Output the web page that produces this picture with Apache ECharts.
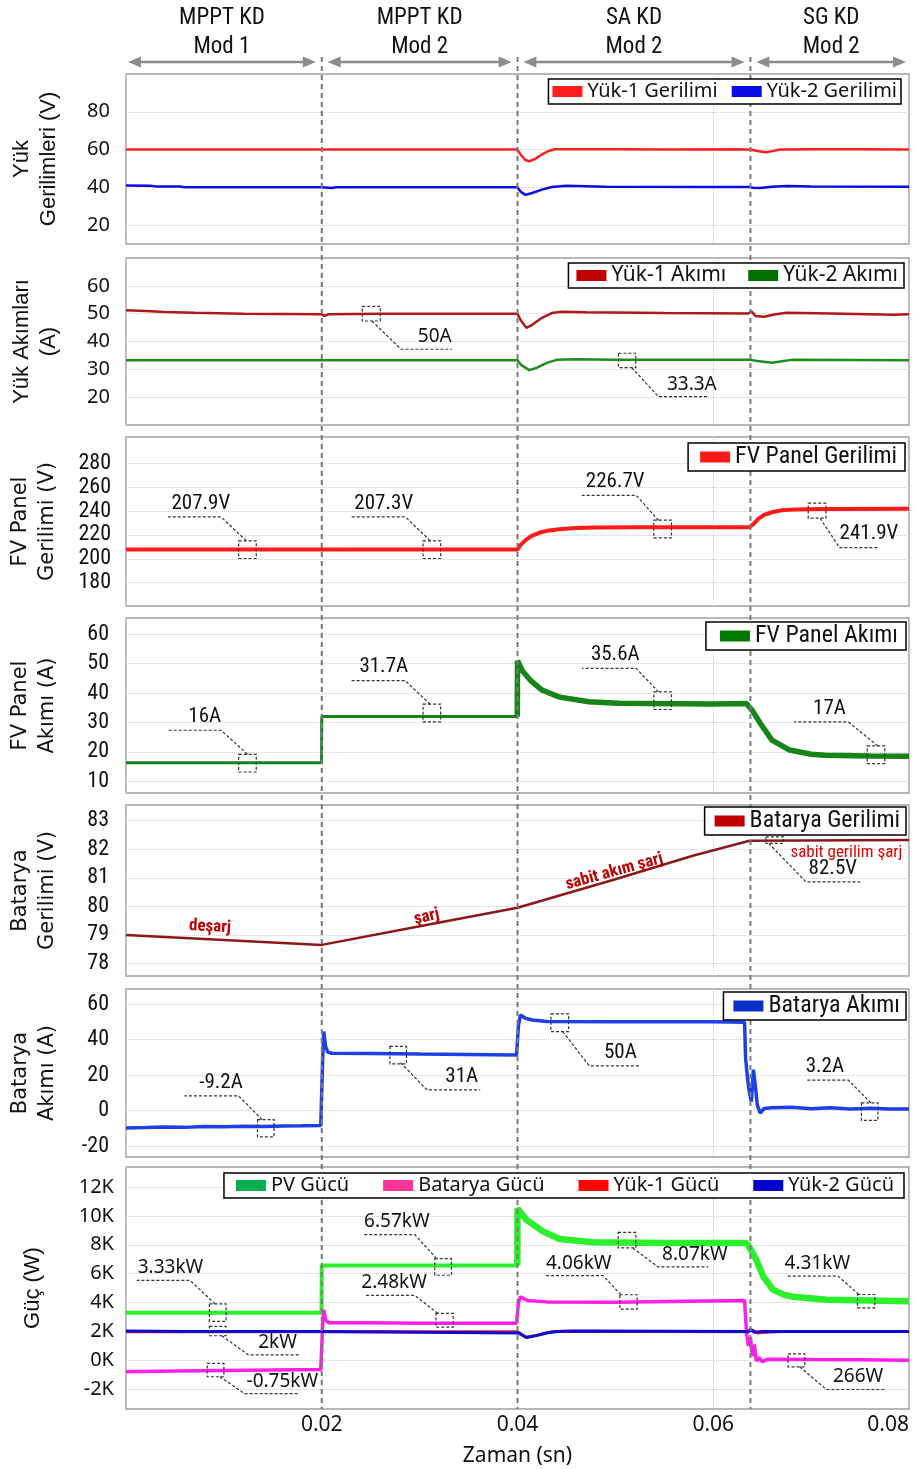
<!DOCTYPE html>
<html><head><meta charset="utf-8">
<script src="https://cdn.jsdelivr.net/npm/echarts@6/dist/echarts.min.js"></script>
<style>html,body{margin:0;padding:0;background:#fff}#c{width:921px;height:1469px}</style>
</head><body><div id="c"></div><script>
// ---------------- DATA ----------------
const modeTop = ['MPPT KD','MPPT KD','SA KD','SG KD'];
const modeBottom = ['Mod 1','Mod 2','Mod 2','Mod 2'];
const modeSpans = [[0.0002,0.0194],[0.0206,0.0394],[0.0406,0.0632],[0.0644,0.0797]];
const switchTimes = [[0.02,0],[0.04,0],[0.0638,0]];

const p1Ticks = [20,40,60,80];
const p2Ticks = [20,30,40,50,60];
const p3Ticks = [180,200,220,240,260,280];
const p4Ticks = [10,20,30,40,50,60];
const p5Ticks = [78,79,80,81,82,83];
const p6Ticks = [-20,0,20,40,60];
const p7Ticks = [-2000,0,2000,4000,6000,8000,10000,12000];

const yuk1Gerilimi = [[0,60],[0.0200,60],[0.0202,59.7],[0.0206,60],[0.0400,60],[0.0403,57.5],[0.0408,54.5],[0.0412,53.8],[0.0418,55],[0.0425,57.5],[0.0432,59.3],[0.0438,60.2],[0.0450,60.1],[0.0500,60.2],[0.0560,60],[0.0620,60.2],[0.0638,60],[0.0645,59.2],[0.0654,58.6],[0.0662,59.3],[0.0668,60],[0.0700,60.1],[0.0750,60.2],[0.0800,60]];
const yuk2Gerilimi = [[0,41],[0.0025,40.9],[0.003,40.5],[0.0055,40.4],[0.006,40],[0.0200,40],[0.0202,39.4],[0.0210,39.6],[0.0215,40],[0.0400,40],[0.0403,37.8],[0.0408,36],[0.0415,37],[0.0425,38.8],[0.0435,40.2],[0.0450,40.8],[0.0470,40.6],[0.0490,40.3],[0.0600,40.2],[0.0636,40.2],[0.0638,41],[0.0641,39.8],[0.0648,39.6],[0.0660,40.3],[0.0675,40.7],[0.0700,40.4],[0.0800,40.3]];

const yuk1Akimi = [[0,51.2],[0.002,51],[0.004,50.6],[0.007,50.3],[0.012,50],[0.0200,49.8],[0.0203,49.2],[0.0207,49.8],[0.026,50],[0.0400,50],[0.0403,47.8],[0.0409,44.9],[0.0415,46],[0.0425,48.5],[0.0435,50.2],[0.0445,50.7],[0.047,50.5],[0.055,50.2],[0.0636,50.1],[0.0639,50.8],[0.0643,49.2],[0.0652,48.9],[0.0662,49.7],[0.0675,50.3],[0.072,50.1],[0.0785,49.6],[0.0800,49.8]];
const yuk2Akimi = [[0,33.3],[0.0200,33.3],[0.0202,33.6],[0.0206,33.3],[0.0400,33.3],[0.0404,31.5],[0.0412,29.7],[0.0420,30.6],[0.0430,32.3],[0.0440,33.4],[0.0460,33.6],[0.050,33.4],[0.0638,33.4],[0.0645,33],[0.0660,32.4],[0.0672,33],[0.068,33.4],[0.080,33.3]];

const fvGerilim = [[0,207.9],[0.0400,207.9],[0.0403,211.5],[0.0408,215.5],[0.0414,219],[0.0422,221.8],[0.0432,223.8],[0.0445,225],[0.0460,225.8],[0.0480,226.3],[0.0520,226.5],[0.0637,226.5],[0.0641,229],[0.0646,233.5],[0.0652,236.8],[0.0660,239],[0.0670,240.6],[0.0685,241.4],[0.0710,241.8],[0.0800,241.9]];

const fvAkimA = [[0,16.3],[0.01998,16.3],[0.0200,32],[0.03998,32]];
const fvAkimB = [[0.03998,32],[0.0400,51],[0.0405,47.5],[0.0413,44.4],[0.0425,41],[0.0443,38.6],[0.0473,37],[0.0503,36.5],[0.0600,36.3],[0.0634,36.4],[0.0640,34],[0.0648,29.7],[0.0660,24],[0.0678,20.6],[0.0700,19.2],[0.0714,18.8],[0.0760,18.6],[0.0800,18.5]];

const batGerilim = [[0,79.0],[0.0200,78.65],[0.0300,79.3],[0.0400,79.95],[0.0500,80.95],[0.0580,81.78],[0.0637,82.3],[0.0800,82.32]];

const batAkim = [[0,-9.8],[0.002,-9.6],[0.004,-9.3],[0.006,-9.5],[0.008,-9.0],[0.010,-9.2],[0.012,-8.8],[0.014,-9.0],[0.016,-8.7],[0.018,-8.6],[0.0199,-8.4],[0.0201,30],[0.0202,44.5],[0.0204,36],[0.0206,33],[0.021,32.3],[0.025,32.1],[0.03,31.8],[0.035,31.6],[0.0399,31.3],[0.0401,48],[0.0403,53.8],[0.0408,52],[0.0415,51],[0.043,50.2],[0.05,50],[0.06,50],[0.0632,49.8],[0.0633,30],[0.0635,18],[0.0637,10],[0.0639,5],[0.0641,23],[0.0643,14],[0.0645,3],[0.0648,-1.5],[0.0652,1.2],[0.066,1.5],[0.068,1.8],[0.07,1.0],[0.072,1.5],[0.074,0.8],[0.076,1.3],[0.078,0.9],[0.08,0.9]];

const pvGucA = [[0,3300],[0.01998,3300],[0.0200,6560],[0.03998,6560]];
const pvGucB = [[0.03998,6560],[0.0400,10500],[0.0409,9740],[0.0426,8930],[0.0443,8400],[0.0477,8170],[0.0550,8120],[0.0634,8120],[0.0638,7700],[0.0644,6970],[0.0651,5820],[0.0661,4900],[0.0672,4550],[0.0682,4400],[0.0716,4200],[0.0800,4100]];
const batGuc = [[0,-780],[0.005,-740],[0.01,-700],[0.015,-660],[0.0199,-620],[0.0201,2500],[0.0202,3500],[0.0204,2800],[0.0207,2600],[0.025,2600],[0.03,2580],[0.0399,2570],[0.0401,4000],[0.0403,4400],[0.041,4150],[0.043,4050],[0.05,4030],[0.0632,4150],[0.0634,1900],[0.0636,1000],[0.0638,1600],[0.0640,300],[0.0642,1100],[0.0644,-50],[0.0647,200],[0.065,-100],[0.0655,70],[0.066,80],[0.07,60],[0.075,40],[0.08,20]];
const yuk1Guc = [[0,1980],[0.04,1980],[0.0403,1800],[0.0409,1600],[0.042,1750],[0.0435,1990],[0.045,2010],[0.0636,1990],[0.064,2100],[0.0645,1900],[0.0655,1950],[0.067,2000],[0.08,2000]];
const yuk2Guc = [[0,2030],[0.006,2000],[0.02,2000],[0.0402,1900],[0.0409,1580],[0.0418,1700],[0.043,1900],[0.044,2000],[0.046,2030],[0.0636,2000],[0.0638,2150],[0.0642,1950],[0.065,2000],[0.08,2000]];

// annotation anchors (t, value) and texts
const p2NoteAt = [[0.02506,50.0],[0.0512,33.2]];
const p2NoteText = ['50A','33.3A'];
const p3NoteAt = [[0.01241,207.7],[0.03125,207.7],[0.05483,225],[0.07061,240.3]];
const p3NoteText = ['207.9V','207.3V','226.7V','241.9V'];
const p4NoteAt = [[0.01241,16.15],[0.03125,33.2],[0.05483,37.4],[0.07663,19.0]];
const p4NoteText = ['16A','31.7A','35.6A','17A'];
const p5NoteAt = [[0.06628,82.32]];
const p5NoteText = ['82.5V'];
const p6NoteAt = [[0.01428,-10],[0.02781,31.2],[0.04432,49.5],[0.07598,-0.6]];
const p6NoteText = ['-9.2A','31A','50A','3.2A'];
const p7NoteAt = [[0.00937,3310],[0.00937,2030],[0.00915,-670],[0.0324,6470],[0.03255,2780],[0.05119,8320],[0.05134,4050],[0.07562,4100],[0.0685,10]];
const p7NoteText = ['3.33kW','2kW','-0.75kW','6.57kW','2.48kW','8.07kW','4.06kW','4.31kW','266W'];
const p5StateAt = [[0.00858,79.28],[0.03072,79.63],[0.04989,81.21],[0.0736,81.88]];
const p5StateText = ['deşarj','şarj','sabit akım şarj','sabit gerilim şarj'];

// ---------------- LAYOUT / STYLE ----------------
const NORMAL = "'Noto Sans','Open Sans',sans-serif";
const NARROW = "'Liberation Sans Narrow','Roboto Condensed','Liberation Sans',sans-serif";
const ARIAL = "'Liberation Sans','Arimo',sans-serif";
const WIDE = "'DejaVu Sans',sans-serif";
// note layout: [boxW, boxH, startDx, startDy, elbowDx, elbowDy, underlineLen, textDx]
const p2NoteLay = [[18,14.7,0.7,7.3,29.7,35.6,51,33.8],[17.4,14.4,4.7,7.2,31.3,36.2,50,33.4]];
const p3NoteLay = [[17.6,17.7,-1.2,-8.9,-26.5,-32.7,-53,-20.1],[17.6,17.7,-1.7,-8.9,-26.5,-32.7,-55,-21.6],[17.6,17.7,-4.1,-8.7,-26.5,-33.6,-54.2,-20.9],[17.7,15,3,7.6,22.4,36.9,40,29.5]];
const p4NoteLay = [[17.6,17.7,0,-8.9,-26.5,-32.9,-54.2,-16.2],[17.6,17.7,-1.7,-8.7,-26.5,-32.3,-54.8,-21.6],[17.6,17.7,-4.1,-8.8,-26.5,-32.2,-54.2,-20.9],[17.6,17.7,1.8,-8.8,-27.6,-32.8,-54.3,-18.9]];
const p5NoteLay = [[17.7,6.6,-5.9,3.3,31.1,41.7,54.3,27]];
const p6NoteLay = [[16.5,17.4,-3.6,-8.7,-27.1,-32.3,-54.3,-17.7],[16.5,17.4,2.4,7.5,28.9,34.8,53.1,34.6],[17.7,17.7,2.9,8.8,29.4,43.1,51.7,31.2],[16.5,17.4,1.2,-8.7,-21.2,-31.4,-41.3,-23.6]];
const p7NoteLay = [[16.7,17.4,-2.7,-8.7,-27.7,-32.3,-53.3,-19.5],[16.7,9.3,4,4.7,30.6,23.7,51,29.2],[16.7,13.3,4.3,6.6,29.3,23.6,52.7,37.5],[16.7,16.7,-6.6,-8.3,-28.3,-32.3,-52.3,-18],[17.3,13.7,-6.7,-6.8,-29.7,-24.8,-49,-20.8],[17.7,15.6,5.8,7.8,31.1,26.8,50,36.7],[17.3,14.3,-7.7,-7.2,-25.4,-26.2,-57.3,-24.4],[17.3,13.3,-7.3,-6.7,-28,-25,-52.3,-20.8],[16.7,13,3.3,6.5,30,29.2,58.3,31.6]];
const p5StateRot = [-3,13,15.5,0];
const p5StateBold = [true,true,true,false];

const LEFT = 126, RIGHT = 12;
const panels = [
  {top:74,  h:170, min:10,    max:100,   ticks:p1Ticks, name:'Yük\nGerilimleri (V)', gap:64, font:NORMAL, fs:20, margin:16, nf:ARIAL, nfs:22},
  {top:258, h:167, min:10,    max:70,    ticks:p2Ticks, name:'Yük Akımları\n(A)',    gap:64, font:NORMAL, fs:20, margin:16, nf:ARIAL, nfs:22},
  {top:437, h:169, min:160.5, max:302,   ticks:p3Ticks, name:'FV Panel\nGerilimi (V)', gap:65, font:NARROW, fs:22, margin:15, nf:WIDE, nfs:21},
  {top:618, h:175, min:6,     max:65.5,  ticks:p4Ticks, name:'FV Panel\nAkımı (A)',  gap:65, font:NARROW, fs:22, margin:17, nf:WIDE, nfs:21},
  {top:805, h:171, min:77.56, max:83.55, ticks:p5Ticks, name:'Batarya\nGerilimi (V)', gap:65, font:NARROW, fs:22, margin:17, nf:WIDE, nfs:21},
  {top:989, h:168, min:-26.2, max:68.5,  ticks:p6Ticks, name:'Batarya\nAkımı (A)',   gap:65, font:NARROW, fs:22, margin:17, nf:WIDE, nfs:21},
  {top:1167,h:242, min:-3360, max:13380, ticks:p7Ticks, name:'Güç (W)',             gap:80, font:NORMAL, fs:20, margin:12, nf:ARIAL, nfs:22}
];

const grids = [], xAxes = [], yAxes = [], series = [], legends = [];
panels.forEach((p, i) => {
  grids.push({left:LEFT, right:RIGHT, top:p.top, height:p.h, show:true, borderColor:'#a0a0a0', borderWidth:1.5,
    backgroundColor:'#fff', containLabel:false, outerBoundsMode:'none'});
  xAxes.push({gridIndex:i, type:'value', min:0, max:0.08, interval:0.02,
    axisLine:{show:false}, axisTick:{show:false},
    axisLabel:{show:i===6, fontFamily:NORMAL, fontSize:21, color:'#111', margin:6, showMinLabel:false,
      alignMaxLabel:'right', formatter:v => v === 0 ? '' : v.toFixed(2)},
    splitLine:{show:true, lineStyle:{color:'#cfcfcf', type:'dotted', width:1}},
    name: i===6 ? 'Zaman (sn)' : '', nameLocation:'middle', nameGap:37,
    nameTextStyle:{fontFamily:NORMAL, fontSize:21, color:'#111'}});
  yAxes.push({gridIndex:i, type:'value', min:p.min, max:p.max,
    axisLine:{show:false}, axisTick:{show:false, customValues:p.ticks},
    axisLabel:{customValues:p.ticks, fontFamily:p.font, fontSize:p.fs, color:'#111', margin:p.margin,
      formatter: i===6 ? (v => (v/1000) + 'K') : (v => String(v))},
    splitLine:{show:true, lineStyle:{color:'#cfcfcf', type:'dotted', width:1}},
    name:p.name, nameLocation:'middle', nameRotate:90, nameGap:p.gap,
    nameTextStyle:{fontFamily:p.nf, fontSize:p.nfs, color:'#111', lineHeight:27, align:'center'}});
});

function lineSeries(name, idx, data, color, width, z) {
  return {name, type:'line', xAxisIndex:idx, yAxisIndex:idx, data, showSymbol:false, symbol:'none',
    lineStyle:{color, width}, itemStyle:{color}, z:z||2, silent:true, animation:false};
}
series.push(lineSeries('Yük-1 Gerilimi',0,yuk1Gerilimi,'#ff1f1f',2.5));
series.push(lineSeries('Yük-2 Gerilimi',0,yuk2Gerilimi,'#0a0ae6',2.5));
series.push(lineSeries('Yük-1 Akımı',1,yuk1Akimi,'#b01818',2.5));
series.push(lineSeries('Yük-2 Akımı',1,yuk2Akimi,'#1e8c1e',2.5));
series.push(lineSeries('FV Panel Gerilimi',2,fvGerilim,'#ff1a1a',4));
series.push(lineSeries('FV Panel Akımı',3,fvAkimA,'#168416',3));
series.push(lineSeries('FV Panel Akımı',3,fvAkimB,'#168416',5.5));
series.push(lineSeries('Batarya Gerilimi',4,batGerilim,'#8b1818',2.5));
series.push(lineSeries('Batarya Akımı',5,batAkim,'#1f3fe6',3.5));
series.push(lineSeries('PV Gücü',6,pvGucA,'#2cf02c',4));
series.push(lineSeries('PV Gücü',6,pvGucB,'#2cf02c',6.5));
series.push(lineSeries('Batarya Gücü',6,batGuc,'#ff1fe8',3.5));
series.push(lineSeries('Yük-1 Gücü',6,yuk1Guc,'#ff1f1f',3));
series.push(lineSeries('Yük-2 Gücü',6,yuk2Guc,'#0a0ad2',3));

function legendCfg(names, right, top, gap, font, fs, pad, colors) {
  return {data:names.map((n, k) => colors && colors[k] ? {name:n, itemStyle:{color:colors[k]}} : n),
    right, top, orient:'horizontal', icon:'rect', itemWidth:30, itemHeight:11, itemGap:gap,
    borderColor:'#000', borderWidth:1.5, backgroundColor:'#fff', padding:pad,
    selectedMode:false, z:10, textStyle:{fontFamily:font, fontSize:fs, color:'#111', lineHeight:21}};
}
legends.push(legendCfg(['Yük-1 Gerilimi','Yük-2 Gerilimi'],20,79,14,NORMAL,20,[2,4,2,4]));
legends.push(legendCfg(['Yük-1 Akımı','Yük-2 Akımı'],17,263,22,NORMAL,21,[2,6,2,8],['#c00000','#007000']));
legends.push(legendCfg(['FV Panel Gerilimi'],16,443,10,NARROW,24,[2,8,2,12]));
legends.push(legendCfg(['FV Panel Akımı'],15,622,10,NARROW,24,[2,8,2,14],['#007800']));
legends.push(legendCfg(['Batarya Gerilimi'],15,807,10,NARROW,24,[2,6,2,10],['#c00000']));
legends.push(legendCfg(['Batarya Akımı'],15,992,10,NARROW,24,[2,6,2,10],['#0a2ec8']));
legends.push(legendCfg(['PV Gücü','Batarya Gücü','Yük-1 Gücü','Yük-2 Gücü'],17,1173,34,NORMAL,20,[2,10,2,12],['#00b050','#ff3399','#ff0000','#0000cc']));

// annotation callouts
function noteSeries(idx, at, texts, lay, font, fs) {
  return {type:'custom', xAxisIndex:idx, yAxisIndex:idx, data:at, silent:true, z:5, animation:false, clip:false,
    renderItem(params, api) {
      const k = params.dataIndex, L = lay[k];
      const c = api.coord([api.value(0), api.value(1)]);
      const dash = {stroke:'#333', lineWidth:1.2, lineDash:[3,2], fill:null};
      const ex = c[0] + L[4], ey = c[1] + L[5];
      return {type:'group', children:[
        {type:'rect', shape:{x:c[0]-L[0]/2, y:c[1]-L[1]/2, width:L[0], height:L[1]}, style:Object.assign({}, dash, {fill:'none'})},
        {type:'polyline', shape:{points:[[c[0]+L[2], c[1]+L[3]],[ex, ey],[ex+L[6], ey]]}, style:dash},
        {type:'text', x:ex + L[7], y:ey - 3, style:{text:texts[k], font:fs+'px '+font, fill:'#111', align:'center', verticalAlign:'bottom'}}
      ]};
    }};
}
series.push(noteSeries(1,p2NoteAt,p2NoteText,p2NoteLay,NORMAL,19));
series.push(noteSeries(2,p3NoteAt,p3NoteText,p3NoteLay,NARROW,21));
series.push(noteSeries(3,p4NoteAt,p4NoteText,p4NoteLay,NARROW,21));
series.push(noteSeries(4,p5NoteAt,p5NoteText,p5NoteLay,NARROW,21));
series.push(noteSeries(5,p6NoteAt,p6NoteText,p6NoteLay,NARROW,21));
series.push(noteSeries(6,p7NoteAt,p7NoteText,p7NoteLay,NORMAL,19));

// battery state labels
series.push({type:'custom', xAxisIndex:4, yAxisIndex:4, data:p5StateAt, silent:true, z:5, animation:false,
  renderItem(params, api) {
    const k = params.dataIndex;
    const c = api.coord([api.value(0), api.value(1)]);
    return {type:'text', x:c[0], y:c[1], rotation:p5StateRot[k]*Math.PI/180,
      style:{text:p5StateText[k], font:(p5StateBold[k]?'bold ':'')+'17px '+NARROW, fill:p5StateBold[k]?'#c00000':'#e00000', align:'center', verticalAlign:'middle'}};
  }});

// header arrows
grids.push({left:LEFT, right:RIGHT, top:52, height:20, show:false, outerBoundsMode:'none'});
xAxes.push({gridIndex:7, type:'value', min:0, max:0.08, show:false});
yAxes.push({gridIndex:7, type:'value', min:0, max:1, show:false});
series.push({type:'custom', xAxisIndex:7, yAxisIndex:7, data:modeSpans, silent:true, z:5, animation:false, clip:false,
  renderItem(params, api) {
    const k = params.dataIndex;
    const a = api.coord([api.value(0), 0.5]), b = api.coord([api.value(1), 0.5]);
    const y = a[1], hl = 13, hw = 5.5, col = '#8c8c8c';
    const mid = (a[0] + b[0]) / 2;
    const tf = '23px ' + NARROW;
    return {type:'group', children:[
      {type:'line', shape:{x1:a[0]+hl-2, y1:y, x2:b[0]-hl+2, y2:y}, style:{stroke:col, lineWidth:2.5}},
      {type:'polygon', shape:{points:[[a[0],y],[a[0]+hl,y-hw],[a[0]+hl,y+hw]]}, style:{fill:col}},
      {type:'polygon', shape:{points:[[b[0],y],[b[0]-hl,y-hw],[b[0]-hl,y+hw]]}, style:{fill:col}},
      {type:'text', x:mid, y:y-44, style:{text:modeTop[k], font:tf, fill:'#111', align:'center', verticalAlign:'middle'}},
      {type:'text', x:mid, y:y-15, style:{text:modeBottom[k], font:tf, fill:'#111', align:'center', verticalAlign:'middle'}}
    ]};
  }});

// mode switch dividers
grids.push({left:LEFT, right:RIGHT, top:57, bottom:60, show:false, outerBoundsMode:'none'});
xAxes.push({gridIndex:8, type:'value', min:0, max:0.08, show:false});
yAxes.push({gridIndex:8, type:'value', min:0, max:1, show:false});
series.push({type:'custom', xAxisIndex:8, yAxisIndex:8, data:switchTimes, silent:true, z:3, animation:false, clip:false,
  renderItem(params, api) {
    const t = api.value(0);
    const a = api.coord([t, 1]), b = api.coord([t, 0]);
    return {type:'line', shape:{x1:a[0], y1:a[1], x2:b[0], y2:b[1]}, style:{stroke:'#7a7a7a', lineWidth:2, lineDash:[5,4]}};
  }});

const chart = echarts.init(document.getElementById('c'), null, {renderer:'canvas'});
chart.setOption({animation:false, backgroundColor:'#fff', grid:grids, xAxis:xAxes, yAxis:yAxes, legend:legends, series});
</script></body></html>
